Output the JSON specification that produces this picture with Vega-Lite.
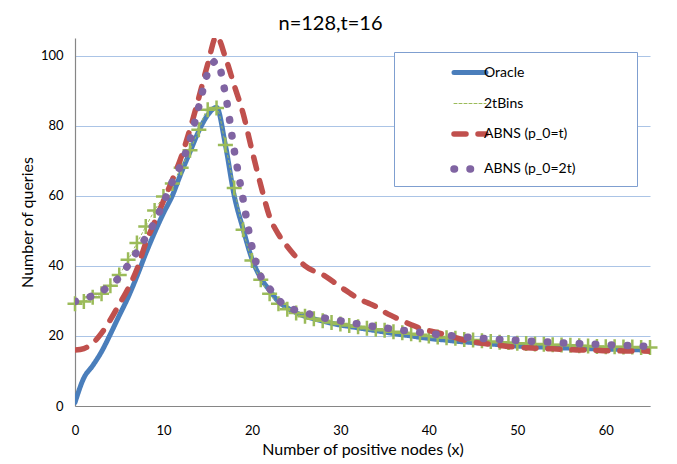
{
  "$schema": "https://vega.github.io/schema/vega-lite/v6.json",
  "width": 575,
  "height": 368,
  "autosize": {"type": "none"},
  "padding": {"left": 75, "top": 38, "right": 27, "bottom": 58},
  "background": "white",
  "title": {"text": "n=128,t=16", "font": "Lato", "fontSize": 20, "fontWeight": "normal", "color": "#000", "anchor": "middle", "dx": -32, "dy": 18, "offset": 6, "baseline": "alphabetic"},
  "config": {"view": {"stroke": null}, "font": "Lato"},
  "datasets": {
    "curves": [
      {"s":"Oracle","x":0,"y":1},{"s":"Oracle","x":1,"y":8},{"s":"Oracle","x":2,"y":11.5},{"s":"Oracle","x":3,"y":15.5},{"s":"Oracle","x":4,"y":20.5},{"s":"Oracle","x":5,"y":25.8},{"s":"Oracle","x":6,"y":31},{"s":"Oracle","x":7,"y":37},{"s":"Oracle","x":8,"y":43.5},{"s":"Oracle","x":9,"y":49.5},{"s":"Oracle","x":10,"y":55},{"s":"Oracle","x":11,"y":60},{"s":"Oracle","x":12,"y":66.5},{"s":"Oracle","x":13,"y":72.5},{"s":"Oracle","x":14,"y":78.5},{"s":"Oracle","x":15,"y":83},{"s":"Oracle","x":16,"y":85.2},{"s":"Oracle","x":17,"y":74.5},{"s":"Oracle","x":18,"y":60},{"s":"Oracle","x":19,"y":50.5},{"s":"Oracle","x":20,"y":42},{"s":"Oracle","x":21,"y":36.5},{"s":"Oracle","x":22,"y":33},{"s":"Oracle","x":23,"y":29.8},{"s":"Oracle","x":24,"y":28},{"s":"Oracle","x":25,"y":26.6},{"s":"Oracle","x":26,"y":25.6},{"s":"Oracle","x":27,"y":24.9},{"s":"Oracle","x":28,"y":24.2},{"s":"Oracle","x":29,"y":23.6},{"s":"Oracle","x":30,"y":23.1},{"s":"Oracle","x":31,"y":22.7},{"s":"Oracle","x":32,"y":22.3},{"s":"Oracle","x":33,"y":21.9},{"s":"Oracle","x":34,"y":21.5},{"s":"Oracle","x":35,"y":21.1},{"s":"Oracle","x":36,"y":20.7},{"s":"Oracle","x":37,"y":20.3},{"s":"Oracle","x":38,"y":20},{"s":"Oracle","x":39,"y":19.6},{"s":"Oracle","x":40,"y":19.3},{"s":"Oracle","x":41,"y":19},{"s":"Oracle","x":42,"y":18.8},{"s":"Oracle","x":43,"y":18.5},{"s":"Oracle","x":44,"y":18.3},{"s":"Oracle","x":45,"y":18.1},{"s":"Oracle","x":46,"y":17.9},{"s":"Oracle","x":47,"y":17.7},{"s":"Oracle","x":48,"y":17.5},{"s":"Oracle","x":49,"y":17.3},{"s":"Oracle","x":50,"y":17.1},{"s":"Oracle","x":51,"y":17},{"s":"Oracle","x":52,"y":16.9},{"s":"Oracle","x":53,"y":16.8},{"s":"Oracle","x":54,"y":16.7},{"s":"Oracle","x":55,"y":16.6},{"s":"Oracle","x":56,"y":16.5},{"s":"Oracle","x":57,"y":16.4},{"s":"Oracle","x":58,"y":16.3},{"s":"Oracle","x":59,"y":16.3},{"s":"Oracle","x":60,"y":16.2},{"s":"Oracle","x":61,"y":16.2},{"s":"Oracle","x":62,"y":16.1},{"s":"Oracle","x":63,"y":16.1},{"s":"Oracle","x":64,"y":16},{"s":"Oracle","x":65,"y":16},
      {"s":"2tBins","x":0,"y":29.2},{"s":"2tBins","x":1,"y":29.8},{"s":"2tBins","x":2,"y":31},{"s":"2tBins","x":3,"y":32},{"s":"2tBins","x":4,"y":34.3},{"s":"2tBins","x":5,"y":37.4},{"s":"2tBins","x":6,"y":41.7},{"s":"2tBins","x":7,"y":46.5},{"s":"2tBins","x":8,"y":51.2},{"s":"2tBins","x":9,"y":55.8},{"s":"2tBins","x":10,"y":59.8},{"s":"2tBins","x":11,"y":63.5},{"s":"2tBins","x":12,"y":68},{"s":"2tBins","x":13,"y":73},{"s":"2tBins","x":14,"y":78.8},{"s":"2tBins","x":15,"y":84.5},{"s":"2tBins","x":16,"y":85},{"s":"2tBins","x":17,"y":74.5},{"s":"2tBins","x":18,"y":62.2},{"s":"2tBins","x":19,"y":50.3},{"s":"2tBins","x":20,"y":41.5},{"s":"2tBins","x":21,"y":36},{"s":"2tBins","x":22,"y":32},{"s":"2tBins","x":23,"y":29.2},{"s":"2tBins","x":24,"y":27.6},{"s":"2tBins","x":25,"y":26.5},{"s":"2tBins","x":26,"y":25.6},{"s":"2tBins","x":27,"y":24.9},{"s":"2tBins","x":28,"y":24.3},{"s":"2tBins","x":29,"y":23.8},{"s":"2tBins","x":30,"y":23.4},{"s":"2tBins","x":31,"y":23},{"s":"2tBins","x":32,"y":22.6},{"s":"2tBins","x":33,"y":22.2},{"s":"2tBins","x":34,"y":21.9},{"s":"2tBins","x":35,"y":21.6},{"s":"2tBins","x":36,"y":21.2},{"s":"2tBins","x":37,"y":20.9},{"s":"2tBins","x":38,"y":20.6},{"s":"2tBins","x":39,"y":20.3},{"s":"2tBins","x":40,"y":20},{"s":"2tBins","x":41,"y":19.7},{"s":"2tBins","x":42,"y":19.5},{"s":"2tBins","x":43,"y":19.3},{"s":"2tBins","x":44,"y":19},{"s":"2tBins","x":45,"y":18.8},{"s":"2tBins","x":46,"y":18.6},{"s":"2tBins","x":47,"y":18.4},{"s":"2tBins","x":48,"y":18.2},{"s":"2tBins","x":49,"y":18.1},{"s":"2tBins","x":50,"y":17.9},{"s":"2tBins","x":51,"y":17.8},{"s":"2tBins","x":52,"y":17.7},{"s":"2tBins","x":53,"y":17.6},{"s":"2tBins","x":54,"y":17.5},{"s":"2tBins","x":55,"y":17.4},{"s":"2tBins","x":56,"y":17.3},{"s":"2tBins","x":57,"y":17.2},{"s":"2tBins","x":58,"y":17.1},{"s":"2tBins","x":59,"y":17},{"s":"2tBins","x":60,"y":16.9},{"s":"2tBins","x":61,"y":16.9},{"s":"2tBins","x":62,"y":16.8},{"s":"2tBins","x":63,"y":16.8},{"s":"2tBins","x":64,"y":16.7},{"s":"2tBins","x":65,"y":16.7},
      {"s":"ABNS (p_0=t)","x":0,"y":16},{"s":"ABNS (p_0=t)","x":1,"y":16.4},{"s":"ABNS (p_0=t)","x":2,"y":17.9},{"s":"ABNS (p_0=t)","x":3,"y":20.8},{"s":"ABNS (p_0=t)","x":4,"y":24.6},{"s":"ABNS (p_0=t)","x":5,"y":29},{"s":"ABNS (p_0=t)","x":6,"y":33.5},{"s":"ABNS (p_0=t)","x":7,"y":39},{"s":"ABNS (p_0=t)","x":8,"y":46.5},{"s":"ABNS (p_0=t)","x":9,"y":52.5},{"s":"ABNS (p_0=t)","x":10,"y":58.5},{"s":"ABNS (p_0=t)","x":11,"y":64.5},{"s":"ABNS (p_0=t)","x":12,"y":71},{"s":"ABNS (p_0=t)","x":13,"y":79},{"s":"ABNS (p_0=t)","x":14,"y":88},{"s":"ABNS (p_0=t)","x":15,"y":97.5},{"s":"ABNS (p_0=t)","x":16,"y":105.5},{"s":"ABNS (p_0=t)","x":17,"y":99.5},{"s":"ABNS (p_0=t)","x":18,"y":91.5},{"s":"ABNS (p_0=t)","x":19,"y":83.5},{"s":"ABNS (p_0=t)","x":20,"y":73},{"s":"ABNS (p_0=t)","x":21,"y":63},{"s":"ABNS (p_0=t)","x":22,"y":54},{"s":"ABNS (p_0=t)","x":23,"y":49},{"s":"ABNS (p_0=t)","x":24,"y":45.5},{"s":"ABNS (p_0=t)","x":25,"y":42.5},{"s":"ABNS (p_0=t)","x":26,"y":40},{"s":"ABNS (p_0=t)","x":27,"y":38.5},{"s":"ABNS (p_0=t)","x":28,"y":37.5},{"s":"ABNS (p_0=t)","x":29,"y":35.8},{"s":"ABNS (p_0=t)","x":30,"y":34},{"s":"ABNS (p_0=t)","x":31,"y":32.3},{"s":"ABNS (p_0=t)","x":32,"y":30.7},{"s":"ABNS (p_0=t)","x":33,"y":29.5},{"s":"ABNS (p_0=t)","x":34,"y":28.4},{"s":"ABNS (p_0=t)","x":35,"y":26.8},{"s":"ABNS (p_0=t)","x":36,"y":25.5},{"s":"ABNS (p_0=t)","x":37,"y":24.3},{"s":"ABNS (p_0=t)","x":38,"y":23.2},{"s":"ABNS (p_0=t)","x":39,"y":22.2},{"s":"ABNS (p_0=t)","x":40,"y":21.5},{"s":"ABNS (p_0=t)","x":41,"y":20.9},{"s":"ABNS (p_0=t)","x":42,"y":20.2},{"s":"ABNS (p_0=t)","x":43,"y":19.5},{"s":"ABNS (p_0=t)","x":44,"y":18.8},{"s":"ABNS (p_0=t)","x":45,"y":18.3},{"s":"ABNS (p_0=t)","x":46,"y":17.9},{"s":"ABNS (p_0=t)","x":47,"y":17.6},{"s":"ABNS (p_0=t)","x":48,"y":17.3},{"s":"ABNS (p_0=t)","x":49,"y":17},{"s":"ABNS (p_0=t)","x":50,"y":16.8},{"s":"ABNS (p_0=t)","x":51,"y":16.6},{"s":"ABNS (p_0=t)","x":52,"y":16.5},{"s":"ABNS (p_0=t)","x":53,"y":16.4},{"s":"ABNS (p_0=t)","x":54,"y":16.3},{"s":"ABNS (p_0=t)","x":55,"y":16.2},{"s":"ABNS (p_0=t)","x":56,"y":16.1},{"s":"ABNS (p_0=t)","x":57,"y":16},{"s":"ABNS (p_0=t)","x":58,"y":16},{"s":"ABNS (p_0=t)","x":59,"y":15.9},{"s":"ABNS (p_0=t)","x":60,"y":15.8},{"s":"ABNS (p_0=t)","x":61,"y":15.8},{"s":"ABNS (p_0=t)","x":62,"y":15.7},{"s":"ABNS (p_0=t)","x":63,"y":15.7},{"s":"ABNS (p_0=t)","x":64,"y":15.7},{"s":"ABNS (p_0=t)","x":65,"y":15.6},
      {"s":"ABNS (p_0=2t)","x":0,"y":29.8},{"s":"ABNS (p_0=2t)","x":1,"y":30.5},{"s":"ABNS (p_0=2t)","x":2,"y":31.5},{"s":"ABNS (p_0=2t)","x":3,"y":32.7},{"s":"ABNS (p_0=2t)","x":4,"y":34.5},{"s":"ABNS (p_0=2t)","x":5,"y":36.7},{"s":"ABNS (p_0=2t)","x":6,"y":40.2},{"s":"ABNS (p_0=2t)","x":7,"y":44},{"s":"ABNS (p_0=2t)","x":8,"y":48.1},{"s":"ABNS (p_0=2t)","x":9,"y":52.5},{"s":"ABNS (p_0=2t)","x":10,"y":58},{"s":"ABNS (p_0=2t)","x":11,"y":64},{"s":"ABNS (p_0=2t)","x":12,"y":69},{"s":"ABNS (p_0=2t)","x":13,"y":76},{"s":"ABNS (p_0=2t)","x":14,"y":85.5},{"s":"ABNS (p_0=2t)","x":15,"y":95},{"s":"ABNS (p_0=2t)","x":16,"y":98.5},{"s":"ABNS (p_0=2t)","x":17,"y":89},{"s":"ABNS (p_0=2t)","x":18,"y":73},{"s":"ABNS (p_0=2t)","x":19,"y":59},{"s":"ABNS (p_0=2t)","x":20,"y":45.5},{"s":"ABNS (p_0=2t)","x":21,"y":37},{"s":"ABNS (p_0=2t)","x":22,"y":33.5},{"s":"ABNS (p_0=2t)","x":23,"y":30.3},{"s":"ABNS (p_0=2t)","x":24,"y":28.3},{"s":"ABNS (p_0=2t)","x":25,"y":27.3},{"s":"ABNS (p_0=2t)","x":26,"y":26.6},{"s":"ABNS (p_0=2t)","x":27,"y":25.9},{"s":"ABNS (p_0=2t)","x":28,"y":25.2},{"s":"ABNS (p_0=2t)","x":29,"y":24.7},{"s":"ABNS (p_0=2t)","x":30,"y":24.3},{"s":"ABNS (p_0=2t)","x":31,"y":23.8},{"s":"ABNS (p_0=2t)","x":32,"y":23.4},{"s":"ABNS (p_0=2t)","x":33,"y":23},{"s":"ABNS (p_0=2t)","x":34,"y":22.6},{"s":"ABNS (p_0=2t)","x":35,"y":22.3},{"s":"ABNS (p_0=2t)","x":36,"y":21.9},{"s":"ABNS (p_0=2t)","x":37,"y":21.6},{"s":"ABNS (p_0=2t)","x":38,"y":21.3},{"s":"ABNS (p_0=2t)","x":39,"y":21},{"s":"ABNS (p_0=2t)","x":40,"y":20.7},{"s":"ABNS (p_0=2t)","x":41,"y":20.4},{"s":"ABNS (p_0=2t)","x":42,"y":20.2},{"s":"ABNS (p_0=2t)","x":43,"y":19.9},{"s":"ABNS (p_0=2t)","x":44,"y":19.7},{"s":"ABNS (p_0=2t)","x":45,"y":19.5},{"s":"ABNS (p_0=2t)","x":46,"y":19.3},{"s":"ABNS (p_0=2t)","x":47,"y":19.1},{"s":"ABNS (p_0=2t)","x":48,"y":19},{"s":"ABNS (p_0=2t)","x":49,"y":18.9},{"s":"ABNS (p_0=2t)","x":50,"y":18.7},{"s":"ABNS (p_0=2t)","x":51,"y":18.6},{"s":"ABNS (p_0=2t)","x":52,"y":18.4},{"s":"ABNS (p_0=2t)","x":53,"y":18.3},{"s":"ABNS (p_0=2t)","x":54,"y":18.2},{"s":"ABNS (p_0=2t)","x":55,"y":18},{"s":"ABNS (p_0=2t)","x":56,"y":17.9},{"s":"ABNS (p_0=2t)","x":57,"y":17.8},{"s":"ABNS (p_0=2t)","x":58,"y":17.7},{"s":"ABNS (p_0=2t)","x":59,"y":17.6},{"s":"ABNS (p_0=2t)","x":60,"y":17.5},{"s":"ABNS (p_0=2t)","x":61,"y":17.4},{"s":"ABNS (p_0=2t)","x":62,"y":17.3},{"s":"ABNS (p_0=2t)","x":63,"y":17.2},{"s":"ABNS (p_0=2t)","x":64,"y":17.1},{"s":"ABNS (p_0=2t)","x":65,"y":17}
    ]
  },
  "data": {"name": "curves"},
  "encoding": {
    "x": {"field": "x", "type": "quantitative", "scale": {"domain": [0, 65], "nice": false, "zero": false},
      "axis": {"values": [0, 10, 20, 30, 40, 50, 60], "grid": false, "ticks": false, "domainColor": "#868686", "domainWidth": 1.2, "labelFlush": false, "labelFont": "Lato", "labelFontSize": 13, "labelColor": "#000", "labelPadding": 18, "title": "Number of positive nodes (x)", "titleFont": "Lato", "titleFontSize": 16, "titleFontWeight": "normal", "titleColor": "#000", "titlePadding": 4}},
    "y": {"field": "y", "type": "quantitative", "scale": {"domain": [0, 105], "nice": false},
      "axis": {"values": [0, 20, 40, 60, 80, 100], "grid": true, "gridColor": "#abc4e6", "gridWidth": 1, "ticks": false, "domainColor": "#868686", "domainWidth": 1.2, "labelFlush": false, "labelFont": "Lato", "labelFontSize": 13, "labelColor": "#000", "labelPadding": 12, "title": "Number of queries", "titleFont": "Lato", "titleFontSize": 16, "titleFontWeight": "normal", "titleColor": "#000", "titlePadding": 5}},
    "color": {"field": "s", "type": "nominal",
      "scale": {"domain": ["Oracle", "2tBins", "ABNS (p_0=t)", "ABNS (p_0=2t)"], "range": ["#4a7ebb", "#9bbb59", "#c0504d", "#8064a2"]},
      "legend": {"title": "\u00a0", "titleOrient": "right", "titlePadding": 60, "titleFontSize": 1, "orient": "none", "legendX": 319, "legendY": 14, "symbolType": "stroke", "symbolSize": 1024, "symbolOffset": 54, "labelFont": "Lato", "labelFontSize": 14, "labelColor": "#000", "labelOffset": -6, "rowPadding": 4, "padding": 2, "strokeColor": "#7f9fd0", "fillColor": "white", "encode": {"symbols": {"update": {"strokeCap": {"value": "round"}}}}}},
    "strokeDash": {"field": "s", "type": "nominal",
      "scale": {"domain": ["Oracle", "2tBins", "ABNS (p_0=t)", "ABNS (p_0=2t)"], "range": [[1, 0], [3, 2], [12, 12], [0.5, 15.5]]},
      "legend": {"title": "\u00a0", "titleOrient": "right", "titlePadding": 60, "titleFontSize": 1, "orient": "none", "legendX": 319, "legendY": 14, "symbolType": "stroke", "symbolSize": 1024, "symbolOffset": 54, "labelFont": "Lato", "labelFontSize": 14, "labelColor": "#000", "labelOffset": -6, "rowPadding": 4, "padding": 2, "strokeColor": "#7f9fd0", "fillColor": "white", "encode": {"symbols": {"update": {"strokeCap": {"value": "round"}}}}}},
    "strokeWidth": {"field": "s", "type": "nominal",
      "scale": {"type": "ordinal", "domain": ["Oracle", "2tBins", "ABNS (p_0=t)", "ABNS (p_0=2t)"], "range": [5, 1, 5.5, 7.5]},
      "legend": {"title": "\u00a0", "titleOrient": "right", "titlePadding": 60, "titleFontSize": 1, "orient": "none", "legendX": 319, "legendY": 14, "symbolType": "stroke", "symbolSize": 1024, "symbolOffset": 54, "labelFont": "Lato", "labelFontSize": 14, "labelColor": "#000", "labelOffset": -6, "rowPadding": 4, "padding": 2, "strokeColor": "#7f9fd0", "fillColor": "white", "encode": {"symbols": {"update": {"strokeCap": {"value": "round"}}}}}}
  },
  "layer": [
    {"transform": [{"filter": "datum.s == 'Oracle'"}], "mark": {"type": "line", "interpolate": "monotone", "strokeCap": "round", "strokeJoin": "round", "clip": true}},
    {"transform": [{"filter": "datum.s == '2tBins'"}], "mark": {"type": "line", "interpolate": "monotone", "clip": true}},
    {"transform": [{"filter": "datum.s == '2tBins'"}], "mark": {"type": "point", "shape": "M-1,0H1M0,-1V1", "filled": false, "size": 225, "opacity": 1},
      "encoding": {"color": {"value": "#9bbb59"}, "strokeDash": {"value": [1, 0]}, "strokeWidth": {"value": 2.5}}},
    {"transform": [{"filter": "datum.s == 'ABNS (p_0=t)'"}], "mark": {"type": "line", "interpolate": "monotone", "strokeCap": "round", "clip": true}},
    {"transform": [{"filter": "datum.s == 'ABNS (p_0=2t)'"}], "mark": {"type": "line", "interpolate": "monotone", "strokeCap": "round", "clip": true}}
  ]
}
